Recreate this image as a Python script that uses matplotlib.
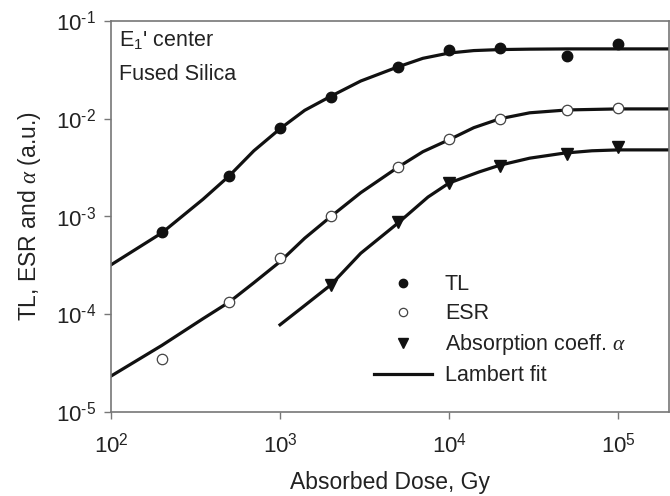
import matplotlib
matplotlib.use("Agg")
import matplotlib.pyplot as plt
from matplotlib.lines import Line2D

plt.rcParams['font.family'] = ['Liberation Sans', 'DejaVu Sans']
plt.rcParams['mathtext.fontset'] = 'custom'
plt.rcParams['mathtext.rm'] = 'Liberation Sans'
plt.rcParams['mathtext.it'] = 'Liberation Serif:italic'

# measured points
tl_dose = [200, 500, 1000, 2000, 5000, 1e4, 2e4, 5e4, 1e5]
tl_val = [6.9e-4, 2.6e-3, 8.1e-3, 1.65e-2, 3.4e-2, 5.1e-2, 5.3e-2, 4.4e-2, 5.8e-2]

esr_dose = [200, 500, 1000, 2000, 5000, 1e4, 2e4, 5e4, 1e5]
esr_val = [3.5e-5, 1.33e-4, 3.8e-4, 1.0e-3, 3.2e-3, 6.2e-3, 1.0e-2, 1.23e-2, 1.29e-2]

abs_dose = [2000, 5000, 1e4, 2e4, 5e4, 1e5]
abs_val = [2.0e-4, 8.8e-4, 2.2e-3, 3.3e-3, 4.35e-3, 5.1e-3]

# Lambert fit curves
tl_fit_x = [100, 200, 350, 500, 700, 1000, 1400, 2000, 3000, 5000, 7000, 1e4, 1.4e4, 2e4, 3e4, 5e4, 1e5, 2e5]
tl_fit_y = [3.2e-4, 6.8e-4, 1.5e-3, 2.6e-3, 4.7e-3, 7.9e-3, 1.22e-2, 1.7e-2, 2.43e-2, 3.4e-2, 4.15e-2, 4.7e-2,
            4.98e-2, 5.1e-2, 5.15e-2, 5.18e-2, 5.18e-2, 5.18e-2]

esr_fit_x = [100, 200, 350, 500, 700, 1000, 1400, 2000, 3000, 5000, 7000, 1e4, 1.4e4, 2e4, 3e4, 5e4, 1e5, 2e5]
esr_fit_y = [2.33e-5, 4.8e-5, 9.0e-5, 1.33e-4, 2.1e-4, 3.45e-4, 6.0e-4, 1.0e-3, 1.75e-3, 3.2e-3, 4.6e-3, 6.1e-3,
             8.1e-3, 1.0e-2, 1.15e-2, 1.23e-2, 1.26e-2, 1.26e-2]

abs_fit_x = [1000, 1350, 2000, 3000, 5000, 7500, 1e4, 1.5e4, 2e4, 3e4, 4.8e4, 7e4, 1e5, 2e5]
abs_fit_y = [7.8e-5, 1.17e-4, 2.0e-4, 4.2e-4, 8.6e-4, 1.58e-3, 2.2e-3, 2.85e-3, 3.35e-3, 3.95e-3, 4.45e-3,
             4.7e-3, 4.8e-3, 4.8e-3]

x_ticks = [1e2, 1e3, 1e4, 1e5]
x_labels = [r'$10^{2}$', r'$10^{3}$', r'$10^{4}$', r'$10^{5}$']
y_ticks = [1e-5, 1e-4, 1e-3, 1e-2, 1e-1]
y_labels = [r'$10^{\text{-5}}$', r'$10^{\text{-4}}$', r'$10^{\text{-3}}$', r'$10^{\text{-2}}$', r'$10^{\text{-1}}$']

fig = plt.figure(figsize=(6.7, 4.96), dpi=100)
ax = fig.add_axes([0.1657, 0.1694, 0.8328, 0.7883])

ink = '#111111'
txt = '#222222'
lw = 2.3
ax.plot(tl_fit_x, tl_fit_y, color=ink, lw=lw)
ax.plot(esr_fit_x, esr_fit_y, color=ink, lw=lw)
ax.plot(abs_fit_x, abs_fit_y, color=ink, lw=lw)

ax.plot(tl_dose, tl_val, 'o', color=ink, ms=7.5, ls='none')
ax.plot(esr_dose, esr_val, 'o', mfc='white', mec='#444444', mew=0.9, ms=7.5, ls='none')
ax.plot(abs_dose, abs_val, 'v', color=ink, ms=8, ls='none')

ax.set_xscale('log')
ax.set_yscale('log')
ax.set_xlim(100, 2e5)
ax.set_ylim(1e-5, 1e-1)
ax.minorticks_off()
ax.set_xticks(x_ticks)
ax.set_xticklabels(x_labels, fontsize=16, color=txt)
ax.set_yticks(y_ticks)
ax.set_yticklabels(y_labels, fontsize=16, color=txt)

for s in ax.spines.values():
    s.set_color('#777777')
    s.set_linewidth(1.2)
ax.tick_params(direction='out', length=5, width=1, color='#777777')
ax.tick_params(axis='x', pad=10)
ax.tick_params(axis='y', pad=6)

ax.set_xlabel('Absorbed Dose, Gy', fontsize=16.5, color=txt, labelpad=10)
ax.set_ylabel(r'TL, ESR and $\mathit{\alpha}$ (a.u.)', fontsize=16.5, color=txt)
ax.yaxis.set_label_coords(-0.122, 0.5)

ax.text(0.015, 0.935, "E$_1$' center", transform=ax.transAxes, fontsize=15.5, color=txt)
ax.text(0.015, 0.85, 'Fused Silica', transform=ax.transAxes, fontsize=15.5, color=txt)

handles = [
    Line2D([], [], marker='o', color=ink, ls='none', ms=6),
    Line2D([], [], marker='o', mfc='white', mec='#444444', mew=0.9, ls='none', ms=6),
    Line2D([], [], marker='v', color=ink, ls='none', ms=6.5),
    Line2D([], [], color=ink, lw=2.3),
]
labels = ['TL', 'ESR', r'Absorption coeff. $\mathit{\alpha}$', 'Lambert fit']
ax.legend(handles, labels, loc='upper left', bbox_to_anchor=(0.471, 0.352), frameon=False,
          borderpad=0, borderaxespad=0, fontsize=15.5, handlelength=2.7, handletextpad=0.6,
          labelspacing=0.37, labelcolor=txt)

fig.savefig('out.png', dpi=100)
